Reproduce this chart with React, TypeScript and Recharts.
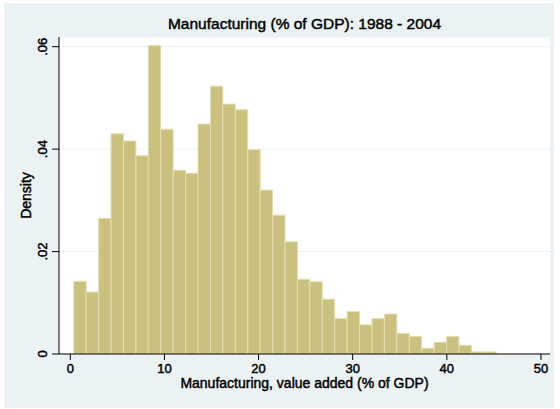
import React from "react";
import { Bar, BarChart, CartesianGrid, XAxis, YAxis } from "recharts";

// bin midpoints (% of GDP), bin width 1.32
const binMids = [
  1.03, 2.35, 3.67, 4.99, 6.31, 7.63, 8.95, 10.27, 11.59, 12.91, 14.23, 15.55,
  16.87, 18.19, 19.51, 20.83, 22.15, 23.47, 24.79, 26.11, 27.43, 28.75, 30.07,
  31.39, 32.71, 34.03, 35.35, 36.67, 37.99, 39.31, 40.63, 41.95, 43.27, 44.59,
];
const density = [
  0.0142, 0.0121, 0.0265, 0.043, 0.0416, 0.0387, 0.0602, 0.0439, 0.0359,
  0.0353, 0.0449, 0.0523, 0.0488, 0.0477, 0.0399, 0.032, 0.0271, 0.0219,
  0.0146, 0.0141, 0.0107, 0.0069, 0.0083, 0.0057, 0.0069, 0.0078, 0.004,
  0.0034, 0.0011, 0.0023, 0.0034, 0.0017, 0.0004, 0.0004,
];
const xTicks = [0, 10, 20, 30, 40, 50];
const yTicks = [0, 0.02, 0.04, 0.06];

const data = binMids.map((mid, i) => ({ mid, density: density[i] }));

const FONT = "'Liberation Sans', Arial, sans-serif";
const BG = "#EAF2F3";
const BAR = "#CAC17F";

// slightly heavier text strokes
const textStyle = {
  fontFamily: FONT,
  fill: "#000",
  stroke: "#000",
  strokeWidth: 0.45,
};

const fmtY = (v: number) => (v === 0 ? "0" : String(v).replace(/^0/, ""));

function YTick({ y, payload }: any) {
  return (
    <text
      transform={`translate(46.5,${y}) rotate(-90)`}
      textAnchor="middle"
      fontSize={13}
      {...textStyle}
    >
      {fmtY(payload.value)}
    </text>
  );
}

function XTick({ x, y, payload }: any) {
  return (
    <text x={x} y={y + 9.3} textAnchor="middle" fontSize={13} {...textStyle}>
      {payload.value}
    </text>
  );
}

export default function App() {
  return (
    <div
      style={{
        position: "absolute",
        left: 0,
        top: 0,
        width: 560,
        height: 409,
        background: "#fff",
        fontFamily: FONT,
      }}
    >
      <div
        style={{
          position: "absolute",
          left: 4,
          top: 3,
          width: 550,
          height: 405,
          background: BG,
        }}
      />
      <div
        style={{
          position: "absolute",
          left: 59,
          width: 491,
          top: 14,
          textAlign: "center",
          fontSize: 15.5,
          lineHeight: "20px",
          color: "#000",
          WebkitTextStroke: "0.45px #000",
        }}
      >
        Manufacturing (% of GDP): 1988 - 2004
      </div>
      <div style={{ position: "absolute", left: 0, top: 0 }}>
        <BarChart
          width={560}
          height={409}
          data={data}
          margin={{ top: 37, right: 10, bottom: 25, left: 0 }}
          barCategoryGap={0}
          barGap={0}
        >
          <CartesianGrid
            vertical={false}
            fill="#fff"
            stroke={BG}
            strokeWidth={1}
          />
          <XAxis
            dataKey="mid"
            type="number"
            domain={[-1.2, 50.96]}
            ticks={xTicks}
            allowDataOverflow
            height={30}
            stroke="#000"
            tickSize={6}
            tickMargin={4}
            tick={<XTick />}
            tickLine={{ stroke: "#000" }}
            label={{
              content: () => (
                <text
                  x={304.5}
                  y={388}
                  textAnchor="middle"
                  fontSize={14}
                  {...textStyle}
                >
                  Manufacturing, value added (% of GDP)
                </text>
              ),
            }}
          />
          <YAxis
            type="number"
            domain={[0, 0.0619]}
            ticks={yTicks}
            allowDataOverflow
            width={59}
            stroke="#000"
            tickSize={7}
            tick={<YTick />}
            tickLine={{ stroke: "#000" }}
            label={{
              content: () => (
                <text
                  transform="translate(31,195.5) rotate(-90)"
                  textAnchor="middle"
                  fontSize={14}
                  {...textStyle}
                >
                  Density
                </text>
              ),
            }}
          />
          <Bar
            dataKey="density"
            fill={BAR}
            stroke="#E4DDB0"
            strokeWidth={1}
            barSize={12.4}
            isAnimationActive={false}
          />
        </BarChart>
      </div>
    </div>
  );
}
